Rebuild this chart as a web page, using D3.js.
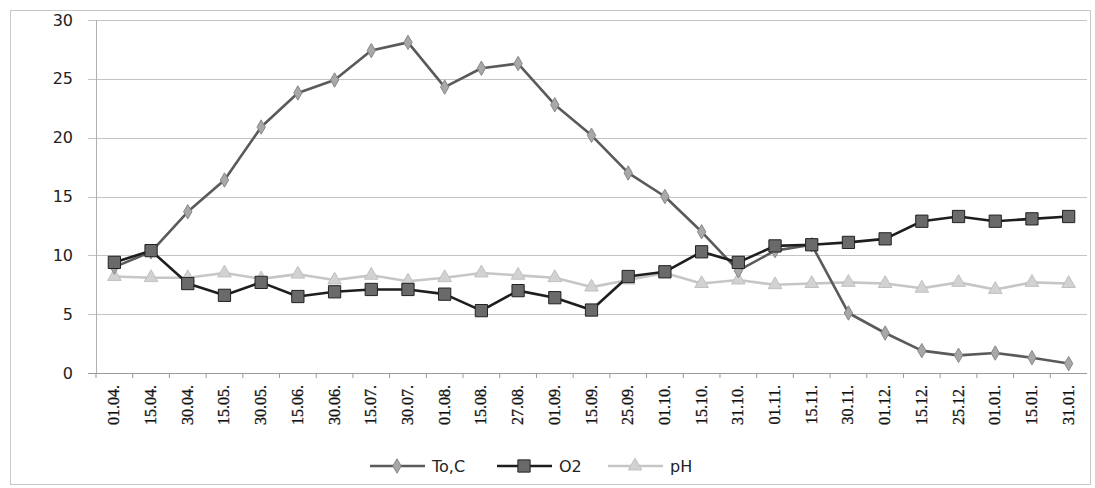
<!DOCTYPE html>
<html>
<head>
<meta charset="utf-8">
<script src="https://d3js.org/d3.v7.min.js"></script>
<style>
  body { margin: 0; background: #fff; }
  svg { display: block; }
</style>
</head>
<body>
<div id="chart"></div>
<script>
// dates of the sampling
const dates = ["01.04.", "15.04.", "30.04.", "15.05.", "30.05.", "15.06.", "30.06.", "15.07.", "30.07.",
  "01.08.", "15.08.", "27.08.", "01.09.", "15.09.", "25.09.", "01.10.", "15.10.", "31.10.",
  "01.11.", "15.11.", "30.11.", "01.12.", "15.12.", "25.12.", "01.01.", "15.01.", "31.01."];

const temp = [9.0, 10.3, 13.7, 16.4, 20.9, 23.8, 24.9, 27.4, 28.1,
  24.3, 25.9, 26.3, 22.8, 20.2, 17.0, 15.0, 12.0, 8.7,
  10.4, 10.9, 5.1, 3.4, 1.9, 1.5, 1.7, 1.3, 0.8];

const o2 = [9.4, 10.4, 7.6, 6.6, 7.7, 6.5, 6.9, 7.1, 7.1,
  6.7, 5.3, 7.0, 6.4, 5.35, 8.2, 8.6, 10.3, 9.4,
  10.8, 10.9, 11.1, 11.4, 12.9, 13.3, 12.9, 13.1, 13.3];

const ph = [8.2, 8.1, 8.1, 8.5, 8.0, 8.4, 7.9, 8.3, 7.8,
  8.1, 8.5, 8.3, 8.1, 7.3, 7.9, 8.5, 7.6, 7.9,
  7.5, 7.6, 7.7, 7.6, 7.2, 7.7, 7.1, 7.7, 7.6];

const yTicks = [0, 5, 10, 15, 20, 25, 30];

const width = 1095, height = 488;
const margin = { top: 20, right: 8, bottom: 115, left: 96 };

const svg = d3.select("#chart").append("svg")
  .attr("width", width)
  .attr("height", height);

// outer frame
svg.append("rect")
  .attr("x", 10.5).attr("y", 10.5)
  .attr("width", 1080).attr("height", 474)
  .attr("fill", "none")
  .attr("stroke", "#c8c8c8");

const x = d3.scaleBand()
  .domain(dates)
  .range([margin.left, width - margin.right]);

const y = d3.scaleLinear()
  .domain([0, 30])
  .range([height - margin.bottom, margin.top]);

const cx = d => x(d) + x.bandwidth() / 2;

// grid lines
svg.append("g")
  .selectAll("line")
  .data(yTicks)
  .join("line")
  .attr("x1", margin.left - 8)
  .attr("x2", width - margin.right)
  .attr("y1", d => Math.round(y(d)) + 0.5)
  .attr("y2", d => Math.round(y(d)) + 0.5)
  .attr("stroke", d => d === 0 ? "#9a9a9a" : "#c4c4c4")
  .attr("stroke-width", 1.2);

// y axis line
svg.append("line")
  .attr("x1", margin.left + 0.5).attr("x2", margin.left + 0.5)
  .attr("y1", y(30)).attr("y2", y(0))
  .attr("stroke", "#b0b0b0");

// y labels
svg.append("g")
  .selectAll("text")
  .data(yTicks)
  .join("text")
  .attr("x", 73)
  .attr("y", d => y(d))
  .attr("dy", "0.35em")
  .attr("text-anchor", "end")
  .style("font-family", "DejaVu Sans, Verdana, sans-serif")
  .style("font-size", "16px")
  .style("fill", "#222")
  .text(d => d);

// x tick marks
svg.append("g")
  .selectAll("line")
  .data(dates)
  .join("line")
  .attr("x1", d => x(d)).attr("x2", d => x(d))
  .attr("y1", y(0)).attr("y2", y(0) + 5)
  .attr("stroke", "#9a9a9a");

// x labels, rotated
svg.append("g")
  .selectAll("text")
  .data(dates)
  .join("text")
  .attr("transform", d => `translate(${cx(d) + 5},${y(0) + 12}) rotate(-90)`)
  .attr("text-anchor", "end")
  .style("font-family", "Liberation Serif, Times New Roman, serif")
  .style("font-size", "16px")
  .style("fill", "#111")
  .style("stroke", "#111")
  .style("stroke-width", 0.3)
  .text(d => d);

const series = [
  { name: "To,C", values: temp, line: "#5a5a5a", width: 2.6, fill: "#a8a8a8", stroke: "#888", shape: d3.symbolDiamond, size: 60 },
  { name: "O2", values: o2, line: "#1e1e1e", width: 2.6, fill: "#6a6a6a", stroke: "#222", shape: d3.symbolSquare, size: 150 },
  { name: "pH", values: ph, line: "#c6c6c6", width: 2.6, fill: "#d2d2d2", stroke: "#c0c0c0", shape: d3.symbolTriangle, size: 80 }
];

const line = d3.line()
  .x((d, i) => cx(dates[i]))
  .y(d => y(d));

// draw pH first, then temperature, then O2 on top
[series[2], series[0], series[1]].forEach(s => {
  const g = svg.append("g");
  g.append("path")
    .datum(s.values)
    .attr("d", line)
    .attr("fill", "none")
    .attr("stroke", s.line)
    .attr("stroke-width", s.width)
    .attr("stroke-linejoin", "round");
  g.selectAll("path.mark")
    .data(s.values)
    .join("path")
    .attr("class", "mark")
    .attr("transform", (d, i) => `translate(${cx(dates[i])},${y(d)})`)
    .attr("d", d3.symbol().type(s.shape).size(s.size))
    .attr("fill", s.fill)
    .attr("stroke", s.stroke)
    .attr("stroke-width", 1);
});

// legend
const legendX = [370, 497, 608];
const legend = svg.append("g");
series.forEach((s, i) => {
  const lx = legendX[i], ly = 466;
  legend.append("line")
    .attr("x1", lx).attr("x2", lx + 55)
    .attr("y1", ly).attr("y2", ly)
    .attr("stroke", s.line)
    .attr("stroke-width", s.width);
  legend.append("path")
    .attr("transform", `translate(${lx + 27},${ly})`)
    .attr("d", d3.symbol().type(s.shape).size(s.size))
    .attr("fill", s.fill)
    .attr("stroke", s.stroke);
  legend.append("text")
    .attr("x", lx + 62)
    .attr("y", ly)
    .attr("dy", "0.35em")
    .style("font-family", "DejaVu Sans, Verdana, sans-serif")
    .style("font-size", "16px")
    .style("fill", "#222")
    .text(s.name);
});
</script>
</body>
</html>
